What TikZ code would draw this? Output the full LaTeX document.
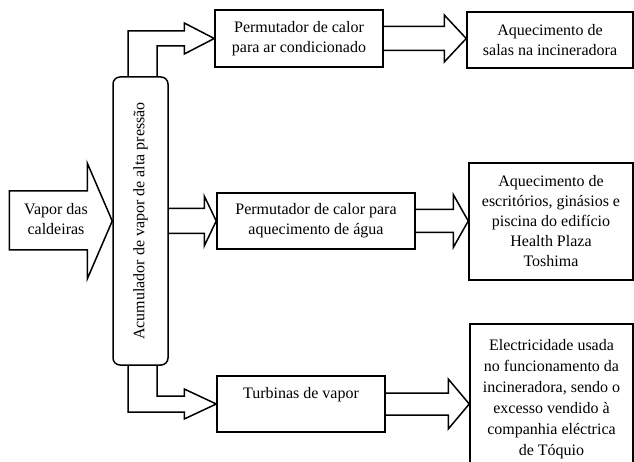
\documentclass[tikz,border=0pt]{standalone}
\usepackage{fontspec}
\setmainfont{Liberation Serif}
\usetikzlibrary{calc}

\tikzset{
  box/.style={draw, line width=1.5pt, align=center, inner sep=2pt},
  fat/.style={draw, line width=1.5pt, line join=miter}
}

\begin{document}
\begin{tikzpicture}[x=1pt, y=-1pt, font=\fontsize{16}{20}\selectfont]
				\useasboundingbox (0,0) rectangle (634,462);
				
				% Acumulador
				\node[box, rounded corners=7pt, rotate=90, minimum width=288, minimum height=55] (acum) at (140.5,221) {Acumulador de vapor de alta pressão};
				
				% Caixas
				\node[box, minimum width=168, minimum height=57] (perm-ar) at (299,38.5) {Permutador de calor\\para ar condicionado};
				\node[box, minimum width=166, minimum height=56] (aq-salas) at (550,40) {Aquecimento de\\salas na incineradora};
				\node[box, minimum width=198, minimum height=56] (perm-agua) at (316,221) {Permutador de calor para\\aquecimento de água};
				\node[box, minimum width=164, minimum height=117] (aq-escr) at (551,221.5) {Aquecimento de\\escritórios, ginásios e\\piscina do edifício\\Health Plaza\\Toshima};
				\node[draw, line width=1.5pt, minimum width=168, minimum height=56, text height=11.5pt, text depth=23pt] (turb) at (301,404) {Turbinas de vapor};
				\node[box, minimum width=163, minimum height=150, font=\fontsize{16}{21}\selectfont] (elec) at (551.5,399) {Electricidade usada\\no funcionamento da\\incineradora, sendo o\\excesso vendido à\\companhia eléctrica\\de Tóquio};
				
				% Vapor das caldeiras
				\draw[fat] ($(acum.north)+(-103,-30)$) -- ($(acum.north)+(-25,-30)$) -- ($(acum.north)+(-25,-58)$) -- (acum.north) -- ($(acum.north)+(-25,58)$) -- ($(acum.north)+(-25,29)$) -- ($(acum.north)+(-103,29)$) -- cycle;
				\node[align=center] (vapor) at (56,219) {Vapor das\\caldeiras};
				
				% Setas do acumulador
				\draw[fat] ($(acum.east)+(-12.5,0)$) |- ($(perm-ar.west)+(-30,-7.5)$) -- ($(perm-ar.west)+(-30,-15.5)$) -- (perm-ar.west) -- ($(perm-ar.west)+(-30,15.5)$) -- ($(perm-ar.west)+(-30,7.5)$) -| ($(acum.east)+(16.5,0)$);
				\draw[fat] ($(acum.west)+(-12.5,0)$) |- ($(turb.west)+(-32,8)$) -- ($(turb.west)+(-32,15)$) -- (turb.west) -- ($(turb.west)+(-32,-15)$) -- ($(turb.west)+(-32,-8)$) -| ($(acum.west)+(16.5,0)$);
				\draw[fat] ($(acum.south |- perm-agua.west)+(0,-12.5)$) -- ($(perm-agua.west)+(-12,-12.5)$) -- ($(perm-agua.west)+(-12,-25)$) -- (perm-agua.west) -- ($(perm-agua.west)+(-12,25)$) -- ($(perm-agua.west)+(-12,12.5)$) -- ($(acum.south |- perm-agua.west)+(0,12.5)$);
				
				% Setas para os destinos
				\draw[fat] ($(perm-ar.east)+(0,-12)$) -- ($(perm-ar.east -| aq-salas.west)+(-22,-12)$) -- ($(perm-ar.east -| aq-salas.west)+(-22,-23.5)$) -- (perm-ar.east -| aq-salas.west) -- ($(perm-ar.east -| aq-salas.west)+(-22,23.5)$) -- ($(perm-ar.east -| aq-salas.west)+(-22,12)$) -- ($(perm-ar.east)+(0,12)$);
				\draw[fat] ($(perm-agua.east)+(0,-11.5)$) -- ($(perm-agua.east -| aq-escr.west)+(-15,-11.5)$) -- ($(perm-agua.east -| aq-escr.west)+(-15,-26.5)$) -- (perm-agua.east -| aq-escr.west) -- ($(perm-agua.east -| aq-escr.west)+(-15,26.5)$) -- ($(perm-agua.east -| aq-escr.west)+(-15,11.5)$) -- ($(perm-agua.east)+(0,11.5)$);
				\draw[fat] ($(turb.east)+(0,-11)$) -- ($(turb.east -| elec.west)+(-21,-11)$) -- ($(turb.east -| elec.west)+(-21,-25)$) -- (turb.east -| elec.west) -- ($(turb.east -| elec.west)+(-21,25)$) -- ($(turb.east -| elec.west)+(-21,11)$) -- ($(turb.east)+(0,11)$);
			\end{tikzpicture}
\end{document}
